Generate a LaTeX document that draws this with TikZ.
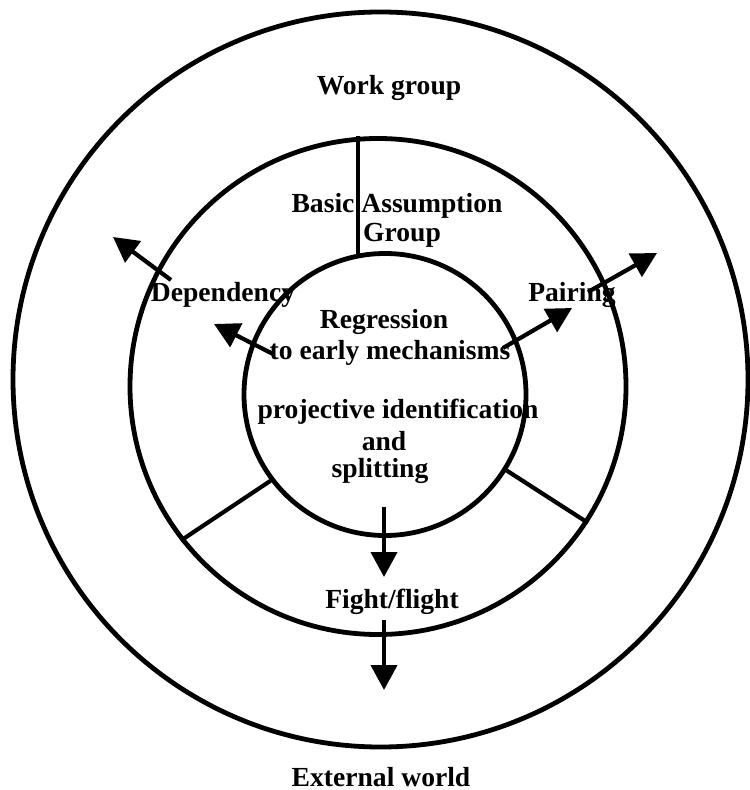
\documentclass[tikz,border=0pt]{standalone}
\usepackage{fontspec}
\setmainfont{Liberation Serif}
\usetikzlibrary{arrows.meta}

\begin{document}
\begin{tikzpicture}[x=0.5pt,y=-0.5pt,ring/.style={draw, circle, line width=2.4pt, inner sep=0pt},lbl/.style={font=\fontsize{13.8}{16}\selectfont\bfseries, inner sep=0pt},divider/.style={line width=2.1pt},push/.style={line width=2.1pt, -{Triangle[length=12.5pt,width=13pt]}}]
  \useasboundingbox (0,0) rectangle (749,790);

  \node[ring, minimum size=367.5pt] (world) at (380.5,379.5) {};
  \node[ring, minimum size=248pt] (ba) at (378,386.5) {};
  \node[ring, minimum size=141pt] (core) at (385,394.5) {};

  \draw[divider] (core.101) -- (core.101 |- ba.north);
  \draw[divider] (core.217) -- (ba.218);
  \draw[divider] (core.328) -- (ba.327);

  \node[lbl] (work) at (389,88) {Work group};
  \node[lbl] (basic) at (397,206) {Basic Assumption};
  \node[lbl] (group) at (402,235) {Group};
  \node[lbl] (dep) at (223,295) {Dependency};
  \node[lbl] (pair) at (572,295) {Pairing};
  \node[lbl] (regr) at (384,322) {Regression};
  \node[lbl] (early) at (390,353) {to early mechanisms};
  \node[lbl] (proj) at (398,412) {projective identification};
  \node[lbl] (and) at (384,441) {and};
  \node[lbl] (split) at (380,471) {splitting};
  \node[lbl] (fight) at (392,602) {Fight/flight};
  \node[lbl] (ext) at (381,777) {External world};

  \coordinate (dep1) at (273,354);
  \coordinate (dep2) at (214,324);
  \coordinate (dep3) at (171,280);
  \coordinate (dep4) at (113,237);
  \coordinate (pair1) at (503,348);
  \coordinate (pair2) at (572,308);
  \coordinate (pair3) at (588,292);
  \coordinate (pair4) at (657,253);
  \coordinate (ff1) at (384,507);
  \coordinate (ff2) at (384,577);
  \coordinate (ff3) at (384,620);
  \coordinate (ff4) at (384,690);

  \draw[push] (dep1) -- (dep2);
  \draw[push] (dep3) -- (dep4);
  \draw[push] (pair1) -- (pair2);
  \draw[push] (pair3) -- (pair4);
  \draw[push] (ff1) -- (ff2);
  \draw[push] (ff3) -- (ff4);
\end{tikzpicture}
\end{document}
